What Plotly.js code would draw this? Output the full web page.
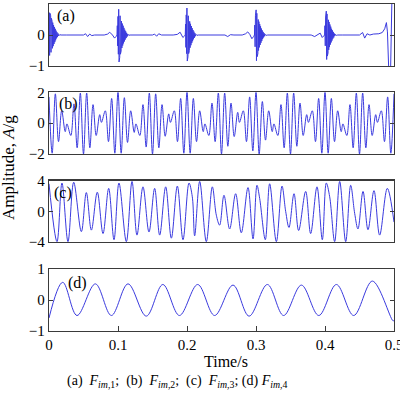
<!DOCTYPE html>
<html><head><meta charset="utf-8">
<script src="https://cdn.plot.ly/plotly-3.0.1.min.js"></script>
<style>body{margin:0;background:#fff}#plot{width:400px;height:394px}</style>
</head><body><div id="plot"></div>
<script>
// (a) F_im,1 : impulse bursts
const tA = [
0.0000,0.0004,0.0009,0.0014,0.0019,0.0024,0.0029,0.0034,0.0039,0.0044,0.0049,0.0054,0.0060,0.0066,0.0072,0.0078,0.0084,0.0090,0.0096,0.0102,0.0108,0.0115,0.0122,0.0130,0.0140,0.0155,0.0175,
0.025,0.050,0.053,0.056,0.059,0.062,0.066,0.080,0.085,0.088,0.092,0.095,0.0975,
0.0986,0.0990,0.0995,0.1000,0.1005,0.1010,0.1015,0.1020,0.1025,0.1030,0.1035,0.1040,0.1045,0.1050,0.1056,0.1062,0.1068,0.1074,0.1080,0.1086,0.1092,0.1098,0.1104,0.1111,0.1118,0.1125,0.1133,0.1142,0.1155,0.1175,
0.125,0.150,0.153,0.156,0.159,0.163,0.180,0.186,0.190,0.194,0.1965,
0.1975,0.1979,0.1984,0.1989,0.1994,0.1999,0.2004,0.2009,0.2014,0.2019,0.2024,0.2029,0.2034,0.2039,0.2045,0.2051,0.2057,0.2063,0.2069,0.2075,0.2081,0.2087,0.2093,0.2100,0.2107,0.2114,0.2122,0.2131,0.2144,0.2164,
0.225,0.255,0.259,0.263,0.268,0.280,0.285,0.288,0.291,0.294,0.2965,
0.2978,0.2982,0.2987,0.2992,0.2997,0.3002,0.3007,0.3012,0.3017,0.3022,0.3027,0.3032,0.3037,0.3042,0.3048,0.3054,0.3060,0.3066,0.3072,0.3078,0.3084,0.3090,0.3096,0.3103,0.3110,0.3117,0.3125,0.3134,0.3147,0.3170,
0.325,0.350,0.353,0.356,0.380,0.385,0.389,0.393,0.396,0.3985,
0.3995,0.3999,0.4004,0.4009,0.4014,0.4019,0.4024,0.4029,0.4034,0.4039,0.4044,0.4049,0.4054,0.4059,0.4065,0.4071,0.4077,0.4083,0.4089,0.4095,0.4101,0.4107,0.4113,0.4120,0.4127,0.4134,0.4142,0.4151,0.4164,0.4185,
0.425,0.450,0.4545,0.4575,0.4610,0.4650,0.4700,0.4780,0.4830,0.4865,0.4890,0.4905,0.4925,0.4950,0.4970,0.5000
];
const yA = [
0.10,0.72,-0.66,0.70,-0.62,0.62,-0.56,0.54,-0.50,0.46,-0.43,0.40,-0.36,0.32,-0.29,0.26,-0.23,0.20,-0.17,0.14,-0.11,0.09,-0.07,0.05,-0.03,0.01,0.00,
0.00,0.00,0.04,-0.05,0.03,-0.02,0.00,0.00,0.03,0.09,0.00,-0.10,-0.04,
0.00,0.30,-0.35,0.60,-0.62,0.83,-0.87,0.72,-0.72,0.62,-0.62,0.52,-0.52,0.45,-0.42,0.37,-0.34,0.30,-0.27,0.23,-0.21,0.17,-0.15,0.12,-0.10,0.07,-0.05,0.03,-0.01,0.00,
0.00,0.00,0.03,-0.04,0.04,0.00,0.00,0.02,0.09,-0.08,-0.03,
0.00,0.35,-0.40,0.65,-0.60,0.87,-0.84,0.74,-0.70,0.62,-0.60,0.52,-0.50,0.44,-0.41,0.36,-0.33,0.29,-0.26,0.22,-0.20,0.16,-0.14,0.11,-0.09,0.06,-0.04,0.02,-0.01,0.00,
0.00,0.00,-0.05,0.01,0.00,0.00,0.04,0.10,0.02,-0.12,-0.05,
0.00,0.32,-0.38,0.62,-0.60,0.81,-0.83,0.70,-0.70,0.60,-0.60,0.50,-0.50,0.43,-0.40,0.35,-0.32,0.28,-0.25,0.21,-0.19,0.15,-0.13,0.10,-0.08,0.06,-0.04,0.02,-0.01,0.00,
0.00,0.00,0.02,0.00,0.00,-0.05,0.00,0.06,-0.08,-0.03,
0.00,0.30,-0.35,0.58,-0.58,0.77,-0.79,0.68,-0.68,0.58,-0.58,0.49,-0.48,0.42,-0.39,0.34,-0.31,0.27,-0.24,0.20,-0.18,0.15,-0.12,0.10,-0.08,0.05,-0.03,0.02,-0.01,0.00,
0.00,0.00,0.08,-0.10,0.04,0.00,0.03,0.04,0.08,0.20,0.40,0.10,-1.20,-1.20,1.20,1.20
];

// (b) F_im,2 : beating oscillation (extrema)
const tB = [
0.0000,0.0046,0.0092,0.0138,0.0184,0.0235,0.0260,
0.0316,0.0362,0.0408,0.0454,0.0500,0.0546,0.0592,0.0638,0.0684,0.0735,0.0760,
0.0816,0.0862,0.0908,0.0954,0.1000,0.1046,0.1092,0.1138,0.1184,0.1235,0.1260,
0.1316,0.1362,0.1408,0.1454,0.1500,0.1546,0.1592,0.1638,0.1684,0.1735,0.1760,
0.1816,0.1862,0.1908,0.1954,0.2000,0.2046,0.2092,0.2138,0.2184,0.2235,0.2260,
0.2316,0.2362,0.2408,0.2454,0.2500,0.2546,0.2592,0.2638,0.2684,0.2735,0.2760,
0.2816,0.2862,0.2908,0.2954,0.3000,0.3046,0.3092,0.3138,0.3184,0.3235,0.3260,
0.3316,0.3362,0.3408,0.3454,0.3500,0.3546,0.3592,0.3638,0.3684,0.3735,0.3760,
0.3816,0.3862,0.3908,0.3954,0.4000,0.4046,0.4092,0.4138,0.4184,0.4235,0.4260,
0.4316,0.4362,0.4408,0.4454,0.4500,0.4546,0.4592,0.4638,0.4684,0.4735,0.4760,
0.4816,0.4862,0.4908,0.4954,0.5000
];
const yB = [
1.70,-1.95,1.90,-1.20,0.80,-0.55,-0.05,
-0.80,1.25,-1.60,1.95,-2.00,1.95,-1.60,1.20,-0.80,0.55,0.05,
0.80,-1.20,1.60,-1.95,2.00,-1.95,1.65,-1.25,0.80,-0.60,-0.05,
-0.80,1.20,-1.55,1.95,-2.00,1.90,-1.60,1.20,-0.85,0.60,0.05,
0.80,-1.20,1.60,-1.95,2.00,-1.95,1.60,-1.20,0.80,-0.55,-0.05,
-0.80,1.30,-1.20,1.95,-2.00,1.95,-1.50,1.30,-0.87,0.70,0.05,
0.80,-1.20,1.70,-1.80,2.00,-2.00,1.40,-1.10,0.80,-0.55,-0.05,
-0.80,1.20,-1.60,1.95,-2.00,1.95,-1.50,1.30,-0.80,0.55,0.05,
0.80,-1.20,1.60,-1.95,2.00,-1.95,1.60,-1.20,0.80,-0.55,-0.05,
-0.80,1.20,-1.60,1.95,-2.00,1.95,-1.60,1.20,-0.80,0.55,0.05,
0.80,-1.20,1.70,-1.95,1.90
];

// (c) F_im,3
const tC = [
0.0000,0.0116,0.0188,0.0275,0.0358,0.0469,0.0541,0.0614,0.0700,0.0783,0.0865,0.0942,0.1014,0.1121,0.1203,0.1275,0.1362,0.1449,0.1531,0.1604,0.1691,0.1773,0.1860,0.1942,0.2029,0.2077,0.2111,
0.2184,0.2280,0.2367,0.2425,0.2473,0.2536,0.2618,0.2705,0.2787,0.2884,0.2957,0.3014,0.3053,0.3135,0.3198,0.3295,0.3377,0.3430,0.3478,0.3551,0.3618,0.3720,0.3792,0.3884,0.3961,0.4019,0.4068,0.4140,0.4213,0.4300,0.4372,0.4430,0.4478,0.4551,0.4623,0.4710,0.4792,0.4903,0.5000
];
const yC = [
3.60,-3.95,3.70,-3.95,3.80,-2.65,2.45,-2.45,2.50,-2.90,3.00,-3.70,3.70,-3.95,3.90,-3.10,3.20,-2.70,3.00,-3.10,3.20,-3.50,3.30,-3.70,3.70,1.90,-3.20,
3.90,-3.95,3.20,-0.50,-1.80,2.10,-2.30,2.30,-2.80,3.10,-3.60,3.40,1.70,-3.70,3.60,-3.95,3.30,0.00,-2.10,2.30,-2.50,2.60,-2.90,3.20,-3.70,3.70,1.90,-3.95,3.90,-3.95,3.40,-0.26,-2.30,2.60,-2.40,2.70,-3.10,3.00,-1.40
];

// (d) F_im,4
const tD = [0.0000,0.0199,0.0406,0.0672,0.0904,0.1145,0.1410,0.1650,0.1890,0.2155,0.2400,0.2667,0.2900,0.3165,0.3400,0.3658,0.3910,0.4165,0.4416,0.4687,0.4985,0.5000];
const yD = [-0.58,0.57,-0.50,0.52,-0.50,0.52,-0.52,0.50,-0.50,0.50,-0.50,0.48,-0.52,0.50,-0.50,0.48,-0.50,0.50,-0.50,0.61,-0.67,-0.66];

const xTickVals = [0, 0.1, 0.2, 0.3, 0.4, 0.5];
const xTickText = ['0', '0.1', '0.2', '0.3', '0.4', '0.5'];

const blue = '#3a3ade';
const axCol = '#3a3a3a';
const fontFam = 'Liberation Serif';

const traces = [
  {x: tA, y: yA, xaxis: 'x', yaxis: 'y', mode: 'lines', line: {color: blue, width: 1}},
  {x: tB, y: yB, xaxis: 'x2', yaxis: 'y2', mode: 'lines', line: {color: blue, width: 1, shape: 'spline', smoothing: 1}},
  {x: tC, y: yC, xaxis: 'x3', yaxis: 'y3', mode: 'lines', line: {color: blue, width: 1, shape: 'spline', smoothing: 1}},
  {x: tD, y: yD, xaxis: 'x4', yaxis: 'y4', mode: 'lines', line: {color: blue, width: 1, shape: 'spline', smoothing: 1}}
];

function xax(anchor, show) {
  const a = {
    anchor: anchor, domain: [0, 1], range: [0, 0.5], showgrid: false, zeroline: false,
    showline: true, linecolor: axCol, linewidth: 1.3, mirror: true,
    ticks: show ? 'inside' : '', ticklen: 5, tickcolor: axCol,
    showticklabels: show
  };
  if (show) {
    a.tickvals = xTickVals;
    a.ticktext = xTickText;
    a.ticklabeloverflow = 'allow';
    a.tickfont = {family: fontFam, size: 15, color: '#000'};
  }
  return a;
}
function yax(anchor, dom, r, vals) {
  return {
    anchor: anchor, domain: dom, range: r, showgrid: false, zeroline: false,
    showline: true, linecolor: axCol, linewidth: 1.3, mirror: 'ticks',
    ticks: 'inside', ticklen: 4, tickcolor: axCol, tickvals: vals,
    tickfont: {family: fontFam, size: 15, color: '#000'}
  };
}

const layout = {
  width: 400, height: 394,
  margin: {l: 49, r: 6, t: 4, b: 63},
  paper_bgcolor: '#fff', plot_bgcolor: '#fff',
  showlegend: false,
  font: {family: fontFam, color: '#000'},
  xaxis: xax('y', false),
  xaxis2: xax('y2', false),
  xaxis3: xax('y3', false),
  xaxis4: xax('y4', true),
  yaxis: yax('x', [0.8104, 1.0], [-1, 1], [-1, 0, 1]),
  yaxis2: yax('x2', [0.5413, 0.730], [-2, 2], [-2, 0, 2]),
  yaxis3: yax('x3', [0.2722, 0.4596], [-4, 4], [-4, 0, 4]),
  yaxis4: yax('x4', [0, 0.1896], [-1, 1], [-1, 0, 1]),
  annotations: [
    {text: '(a)', xref: 'paper', yref: 'paper', x: 0.0174, y: 0.9618, xanchor: 'left', yanchor: 'middle', showarrow: false, font: {family: fontFam, size: 16}},
    {text: '(b)', xref: 'paper', yref: 'paper', x: 0.0232, y: 0.6957, xanchor: 'left', yanchor: 'middle', showarrow: false, font: {family: fontFam, size: 16}},
    {text: '(c)', xref: 'paper', yref: 'paper', x: 0.0087, y: 0.4205, xanchor: 'left', yanchor: 'middle', showarrow: false, font: {family: fontFam, size: 16}},
    {text: '(d)', xref: 'paper', yref: 'paper', x: 0.0493, y: 0.1483, xanchor: 'left', yanchor: 'middle', showarrow: false, font: {family: fontFam, size: 16}},
    {text: 'Amplitude, <i>A</i>/g', xref: 'paper', yref: 'paper', x: -0.1159, y: 0.4985, xanchor: 'center', yanchor: 'middle', textangle: -90, showarrow: false, font: {family: fontFam, size: 17}},
    {text: 'Time/s', xref: 'paper', yref: 'paper', x: 0.513, y: -0.0933, xanchor: 'center', yanchor: 'middle', showarrow: false, font: {family: fontFam, size: 16}},
    {text: '(a)  <i>F</i><sub><i>im</i>,1</sub>;  (b)  <i>F</i><sub><i>im</i>,2</sub>;  (c)  <i>F</i><sub><i>im</i>,3</sub>; (d) <i>F</i><sub><i>im</i>,4</sub>', xref: 'paper', yref: 'paper', x: 0.371, y: -0.1544, xanchor: 'center', yanchor: 'middle', showarrow: false, font: {family: fontFam, size: 14}}
  ]
};

Plotly.newPlot('plot', traces, layout, {staticPlot: true, displayModeBar: false});
</script>
</body></html>
